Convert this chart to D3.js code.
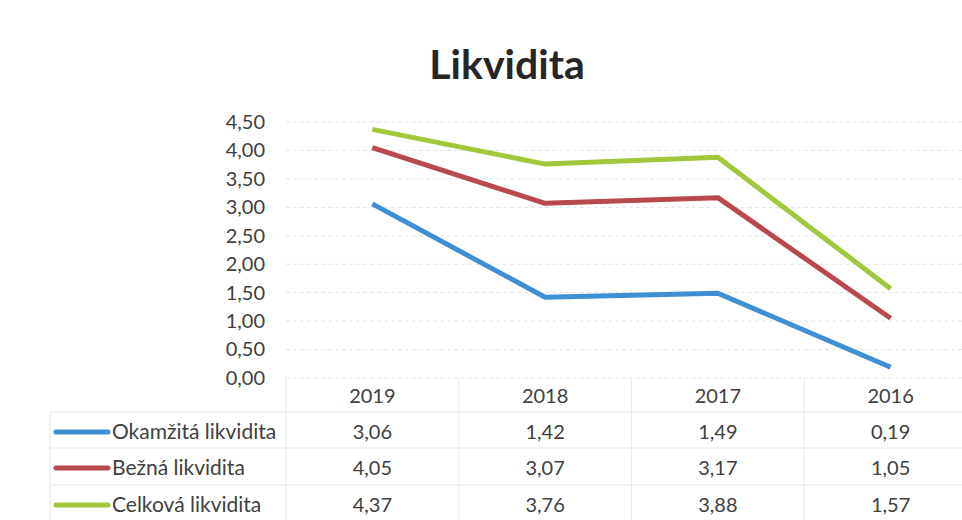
<!DOCTYPE html>
<html>
<head>
<meta charset="utf-8">
<script src="https://cdn.jsdelivr.net/npm/d3@7"></script>
<style>
  body { margin: 0; background: #fff; }
  text { font-family: Lato, "Open Sans", sans-serif; fill: #404040; }
</style>
</head>
<body>
<script>
var years = ["2019", "2018", "2017", "2016"];
var seriesNames = ["Okamžitá likvidita", "Bežná likvidita", "Celková likvidita"];
var okamzita = [3.06, 1.42, 1.49, 0.19];
var bezna = [4.05, 3.07, 3.17, 1.05];
var celkova = [4.37, 3.76, 3.88, 1.57];
var yTicks = [0, 0.5, 1, 1.5, 2, 2.5, 3, 3.5, 4, 4.5];
var colors = ["#3f8fd2", "#b8494f", "#a0c83a"];

var series = [okamzita, bezna, celkova].map(function(v, i) {
  return {name: seriesNames[i], color: colors[i], values: v};
});

var W = 962, H = 520;
var fmt = function(v) { return d3.format(".2f")(v).replace(".", ","); };

var svg = d3.select("body").append("svg")
    .attr("width", W)
    .attr("height", H);

var x = d3.scaleBand().domain(years).range([286, 977]);
var y = d3.scaleLinear().domain([0, 4.5]).range([378, 122]);

// title
svg.append("text")
    .attr("x", 507).attr("y", 79)
    .attr("text-anchor", "middle")
    .style("font-size", "41px")
    .style("font-weight", "bold")
    .style("fill", "#262626")
    .text("Likvidita");

// gridlines
svg.append("g").selectAll("line")
    .data(yTicks)
    .enter().append("line")
      .attr("x1", 286).attr("x2", W)
      .attr("y1", function(d) { return y(d); })
      .attr("y2", function(d) { return y(d); })
      .attr("stroke", "#dfe3ea")
      .attr("stroke-dasharray", "4,3");

// y axis labels
var yAxis = d3.axisLeft(y).tickValues(yTicks).tickFormat(fmt).tickSize(0).tickPadding(0);
var gy = svg.append("g")
    .attr("transform", "translate(265,0)")
    .call(yAxis);
gy.select(".domain").remove();
gy.selectAll("text")
    .style("font-size", "20px")
    .style("fill", "#404040")
    .attr("font-family", null);

// lines
var line = d3.line()
    .x(function(d, i) { return x(years[i]) + x.bandwidth() / 2; })
    .y(function(d) { return y(d); });

svg.append("g").selectAll("path")
    .data(series)
    .enter().append("path")
      .attr("d", function(d) { return line(d.values); })
      .attr("fill", "none")
      .attr("stroke", function(d) { return d.color; })
      .attr("stroke-width", 5)
      .attr("stroke-linejoin", "round");

// data table
var rowY = [412, 448, 485];
var table = svg.append("g");

table.selectAll("line.h")
    .data(rowY)
    .enter().append("line")
      .attr("class", "h")
      .attr("x1", 50).attr("x2", W)
      .attr("y1", function(d) { return d; })
      .attr("y2", function(d) { return d; })
      .attr("stroke", "#e3e6eb");

table.append("line")
    .attr("x1", 50).attr("x2", 50)
    .attr("y1", 412).attr("y2", H)
    .attr("stroke", "#e3e6eb");

table.selectAll("line.v")
    .data(years.concat(["end"]))
    .enter().append("line")
      .attr("class", "v")
      .attr("x1", function(d, i) { return 286 + i * x.step(); })
      .attr("x2", function(d, i) { return 286 + i * x.step(); })
      .attr("y1", 378).attr("y2", H)
      .attr("stroke", "#e8eaee");

// header years
table.selectAll("text.year")
    .data(years)
    .enter().append("text")
      .attr("class", "year")
      .attr("x", function(d) { return x(d) + x.bandwidth() / 2; })
      .attr("y", 403)
      .attr("text-anchor", "middle")
      .style("font-size", "20px")
      .text(function(d) { return d; });

var rows = table.selectAll("g.row")
    .data(series)
    .enter().append("g")
      .attr("class", "row")
      .attr("transform", function(d, i) { return "translate(0," + (rowY[i] + 20) + ")"; });

rows.append("line")
    .attr("x1", 56).attr("x2", 108)
    .attr("y1", 0).attr("y2", 0)
    .attr("stroke", function(d) { return d.color; })
    .attr("stroke-width", 5)
    .attr("stroke-linecap", "round");

rows.append("text")
    .attr("x", 112).attr("y", 7)
    .style("font-size", "21px")
    .text(function(d) { return d.name; });

rows.selectAll("text.val")
    .data(function(d) { return d.values; })
    .enter().append("text")
      .attr("class", "val")
      .attr("x", function(d, i) { return x(years[i]) + x.bandwidth() / 2; })
      .attr("y", 7)
      .attr("text-anchor", "middle")
      .style("font-size", "20px")
      .text(function(d) { return fmt(d); });
</script>
</body>
</html>
